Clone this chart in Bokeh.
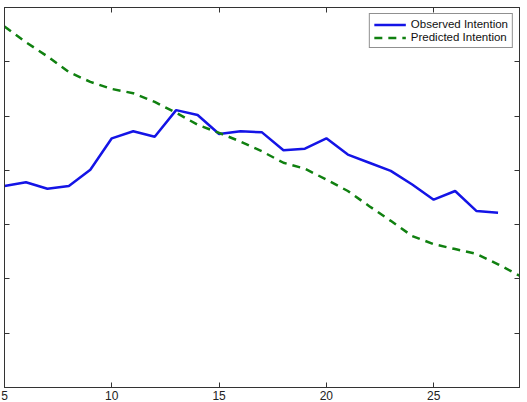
from bokeh.plotting import figure
from bokeh.models import LinearAxis, Range1d, Legend, LegendItem, FixedTicker
from bokeh.embed import file_html
from bokeh.resources import INLINE

weeks = list(range(5, 29))
observed = [0.371, 0.378, 0.366, 0.371, 0.401, 0.459, 0.472, 0.462, 0.511, 0.502,
            0.467, 0.472, 0.470, 0.437, 0.440, 0.459, 0.429, 0.414, 0.399, 0.374,
            0.346, 0.362, 0.325, 0.322]
weeks_pred = list(range(5, 30))
predicted = [0.665, 0.636, 0.610, 0.581, 0.563, 0.550, 0.542, 0.526, 0.506, 0.484,
             0.469, 0.453, 0.435, 0.414, 0.403, 0.383, 0.362, 0.334, 0.307, 0.279,
             0.264, 0.255, 0.246, 0.227, 0.206]
x_ticks = [5, 10, 15, 20, 25]
y_ticks = [0.0, 0.1, 0.2, 0.3, 0.4, 0.5, 0.6, 0.7]

p = figure(width=527, height=402, output_backend="svg", toolbar_location=None,
           x_range=Range1d(5, 29), y_range=Range1d(0, 0.7),
           x_axis_location=None, y_axis_location=None,
           min_border_left=4, min_border_right=8, min_border_top=7, min_border_bottom=2)
p.background_fill_color = "white"
p.border_fill_color = "white"
p.outline_line_color = "#333333"
p.grid.visible = False

axis_color = "#333333"

def mk_axis(show_labels):
    ax = LinearAxis()
    ax.axis_line_color = axis_color
    ax.major_tick_line_color = axis_color
    ax.minor_tick_line_color = None
    ax.major_tick_in = 5
    ax.major_tick_out = 0
    if show_labels:
        ax.major_label_text_font = "Liberation Sans"
        ax.major_label_text_font_size = "12px"
        ax.major_label_text_color = "#222222"
        ax.major_label_standoff = 3
    else:
        ax.major_label_text_font_size = "1px"
        ax.major_label_text_color = None
        ax.major_label_standoff = 0
    return ax

bx = mk_axis(True); bx.ticker = FixedTicker(ticks=x_ticks)
tx = mk_axis(False); tx.ticker = FixedTicker(ticks=x_ticks)
ly = mk_axis(False); ly.ticker = FixedTicker(ticks=y_ticks)
ry = mk_axis(False); ry.ticker = FixedTicker(ticks=y_ticks)
p.add_layout(bx, "below")
p.add_layout(tx, "above")
p.add_layout(ly, "left")
p.add_layout(ry, "right")

r1 = p.line(weeks, observed, line_color="#1414e6", line_width=2.5)
r2 = p.line(weeks_pred, predicted, line_color="#108010", line_width=2.5, line_dash="8 6")

legend = Legend(items=[LegendItem(label="Observed Intention", renderers=[r1]),
                       LegendItem(label="Predicted Intention", renderers=[r2])],
                location="top_right")
legend.label_text_font = "Liberation Sans"
legend.label_text_font_size = "11.5px"
legend.label_text_color = "#111111"
legend.label_standoff = 5
legend.glyph_width = 32
legend.glyph_height = 11
legend.label_height = 11
legend.spacing = 1
legend.padding = 4
legend.margin = 6
legend.border_line_color = "#222222"
legend.border_line_width = 1
legend.background_fill_color = "white"
legend.background_fill_alpha = 1.0
p.add_layout(legend)

open("out.html", "w").write(file_html(p, INLINE))
